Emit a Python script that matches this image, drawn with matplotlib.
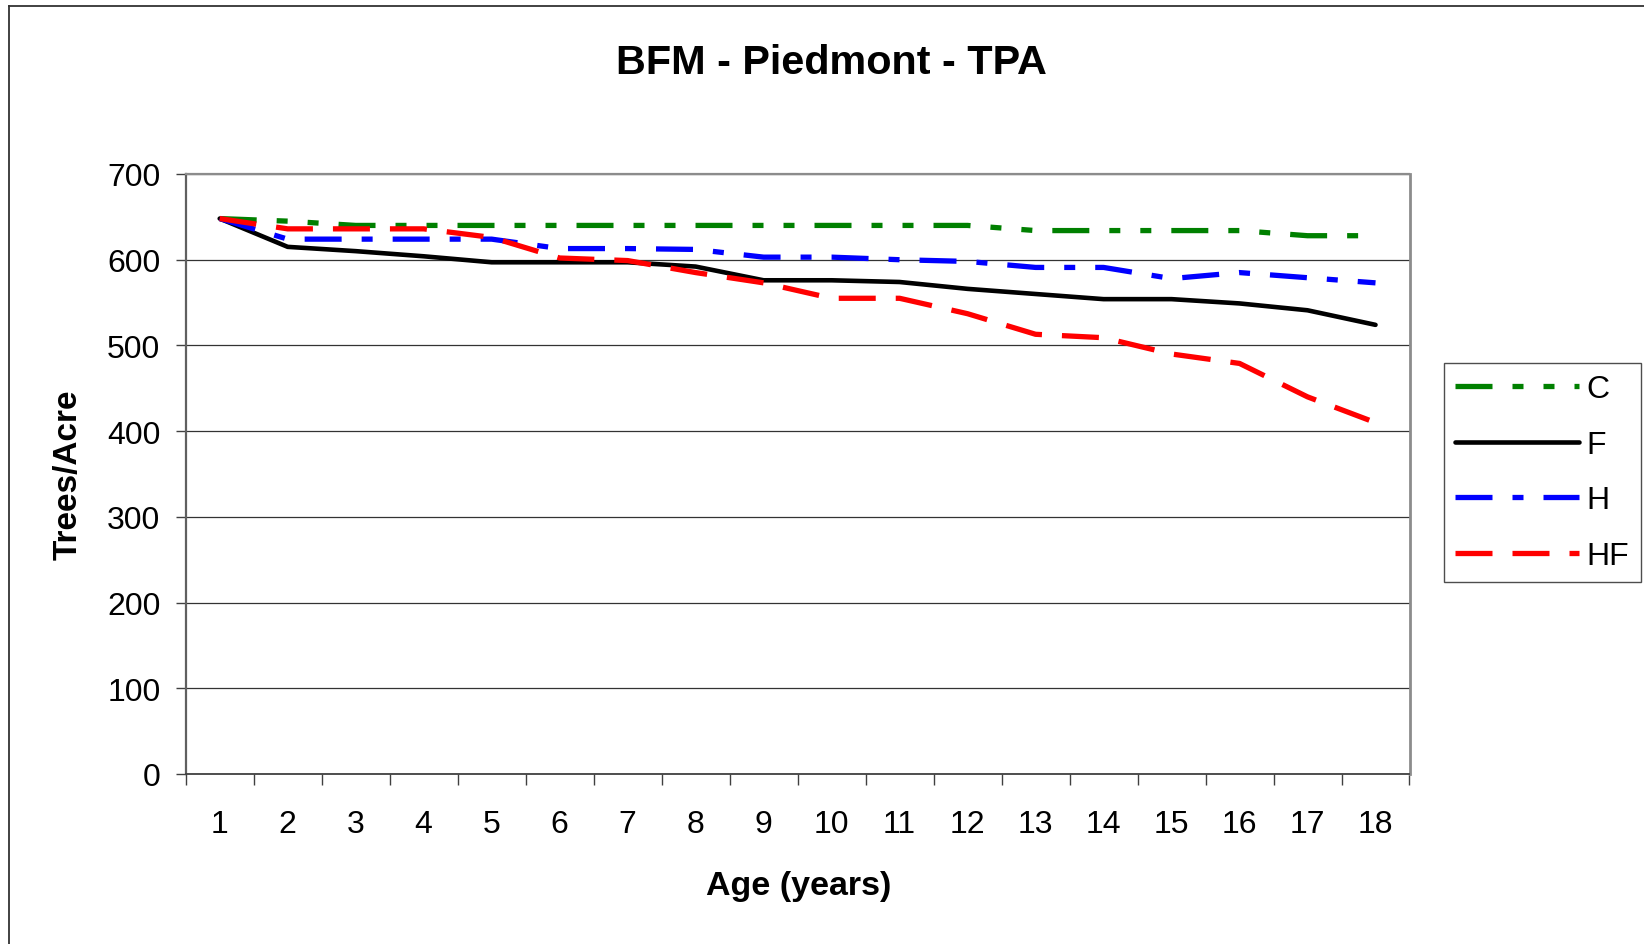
import numpy as np
import matplotlib
matplotlib.use("Agg")
import matplotlib.pyplot as plt
from matplotlib.lines import Line2D

plt.rcParams['font.family'] = ['Liberation Sans', 'DejaVu Sans']
plt.rcParams['lines.scale_dashes'] = False

# ---- data ----
ages = list(range(1, 19))
age_labels = [str(a) for a in ages]
C = [648, 645, 640, 640, 640, 640, 640, 640, 640, 640, 640, 640, 634, 634, 634, 634, 628, 628]
F = [648, 615, 610, 604, 597, 597, 597, 592, 576, 576, 574, 566, 560, 554, 554, 549, 541, 524]
H = [648, 624, 624, 624, 624, 613, 613, 612, 603, 603, 600, 598, 591, 591, 578, 585, 579, 573]
HF = [648, 636, 636, 636, 626, 602, 599, 585, 573, 555, 555, 537, 513, 509, 490, 479, 440, 410]
y_ticks = [0, 100, 200, 300, 400, 500, 600, 700]

W, Hh = 1644, 945
PX = 0.72  # points per pixel at dpi 100

fig = plt.figure(figsize=(W / 100, Hh / 100), dpi=100)
ax = fig.add_axes([185.7 / W, 1 - 775 / Hh, (1409.5 - 185.7) / W, 600 / Hh])

ax.plot(ages, C, color='#008000', lw=3.8, label='C',
        dashes=(37 * PX, 20 * PX, 11 * PX, 20 * PX, 11 * PX, 20 * PX),
        dash_capstyle='butt', solid_capstyle='butt')
ax.plot(ages, F, color='black', lw=3.3, label='F',
        solid_capstyle='round', solid_joinstyle='round')
ax.plot(ages, H, color='#0000FF', lw=3.8, label='H',
        dashes=(37 * PX, 20 * PX, 11 * PX, 20 * PX),
        dash_capstyle='butt')
ax.plot(ages, HF, color='#FF0000', lw=3.8, label='HF',
        dashes=(37 * PX, 20 * PX), dash_capstyle='butt')

ax.set_xlim(0.5, 18.5)
ax.set_ylim(0, 700)
ax.set_yticks(y_ticks)
ax.set_xticks(ages)
ax.set_xticklabels(age_labels)
ax.set_xticks(np.arange(0.5, 18.6, 1), minor=True)
ax.tick_params(axis='x', which='major', length=0, labelsize=23, pad=25.5)
ax.tick_params(axis='x', which='minor', length=11 * PX, width=1, color='#404040')
ax.tick_params(axis='y', which='major', length=10 * PX, width=1, color='#404040',
               labelsize=23, pad=11)
ax.tick_params(axis='y', which='minor', length=0)

ax.yaxis.grid(True, color='#333333', lw=0.9)
ax.set_axisbelow(True)

ax.spines['top'].set_color('#8c8c8c')
ax.spines['top'].set_linewidth(1.6)
ax.spines['right'].set_color('#8c8c8c')
ax.spines['right'].set_linewidth(2.0)
ax.spines['left'].set_color('#606060')
ax.spines['left'].set_linewidth(1.6)
ax.spines['bottom'].set_color('#404040')
ax.spines['bottom'].set_linewidth(1.3)

fig.text(831 / W, 1 - 63 / Hh, 'BFM - Piedmont - TPA', ha='center', va='center',
         fontsize=29.8, fontweight='bold')
fig.text(799 / W, 1 - 887 / Hh, 'Age (years)', ha='center', va='center',
         fontsize=24.5, fontweight='bold')
fig.text(68 / W, 1 - 475 / Hh, 'Trees/Acre', ha='center', va='center',
         rotation=90, fontsize=24, fontweight='bold')

leg = ax.legend(loc='center left', bbox_to_anchor=(1444.3 / W, 1 - 473.5 / Hh),
                bbox_transform=fig.transFigure, fontsize=23, frameon=True,
                fancybox=False, shadow=False, handlelength=3.86, handletextpad=0.25,
                borderpad=0.35, labelspacing=0.8, borderaxespad=0)
leg.get_frame().set_edgecolor('#222222')
leg.get_frame().set_linewidth(1.0)

# outer chart border (left and top edges visible)
fig.add_artist(Line2D([8.5 / W, 8.5 / W], [0, 1 - 6.5 / Hh], transform=fig.transFigure,
                      color='#333333', lw=1.3))
fig.add_artist(Line2D([8.5 / W, 1], [1 - 6.5 / Hh, 1 - 6.5 / Hh], transform=fig.transFigure,
                      color='#333333', lw=1.3))

fig.savefig('out.png', dpi=100)
